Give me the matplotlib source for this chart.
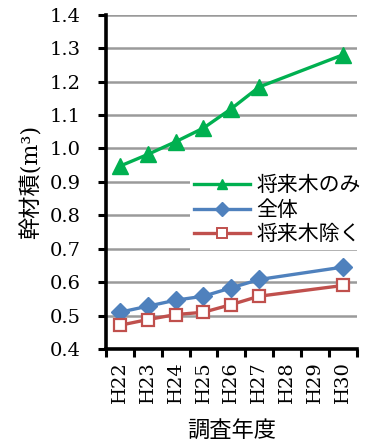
import matplotlib.pyplot as plt
from matplotlib.lines import Line2D

# 幹材積の推移 (H22〜H30)
years = ["H22", "H23", "H24", "H25", "H26", "H27", "H28", "H29", "H30"]
survey_idx = [0, 1, 2, 3, 4, 5, 8]

future_only = [0.947, 0.982, 1.020, 1.061, 1.119, 1.184, 1.280]
whole = [0.510, 0.528, 0.546, 0.558, 0.583, 0.608, 0.645]
excl_future = [0.471, 0.488, 0.503, 0.510, 0.533, 0.558, 0.590]

serif_jp = ["DejaVu Serif", "Noto Sans CJK JP"]

fig = plt.figure(figsize=(3.69, 4.41), dpi=100)
ax = fig.add_axes([0.287, 0.2086, 0.68, 0.758])

ax.plot(survey_idx, future_only, color="#00B050", lw=2.4, marker="^", ms=11,
        label="将来木のみ", zorder=3)
ax.plot(survey_idx, whole, color="#4F81BD", lw=2.4, marker="D", ms=9,
        label="全体", zorder=3)
ax.plot(survey_idx, excl_future, color="#C0504D", lw=2.4, marker="s", ms=9,
        mfc="white", mec="#C0504D", mew=1.6, label="将来木除く", zorder=3)

ax.set_ylim(0.4, 1.4)
ax.set_yticks([0.4 + 0.1 * i for i in range(11)])
ax.set_yticklabels([f"{0.4 + 0.1 * i:.1f}" for i in range(11)],
                   family="DejaVu Serif", fontsize=14)
ax.set_xlim(-0.5, len(years) - 0.5)
ax.set_xticks(range(len(years)))
ax.set_xticklabels(years, rotation=90, family="DejaVu Serif", fontsize=14)
ax.set_xticks([i - 0.5 for i in range(len(years) + 1)], minor=True)
ax.tick_params(axis="x", which="major", length=0, pad=9)
ax.tick_params(axis="x", which="minor", length=6, width=2.2, direction="out")
ax.tick_params(axis="y", length=6, width=2.2, direction="out", pad=12)

ax.yaxis.grid(True, color="#9A9A9A", lw=1.8)
ax.set_axisbelow(True)
for side in ("top", "right"):
    ax.spines[side].set_visible(False)
for side in ("left", "bottom"):
    ax.spines[side].set_linewidth(2.6)

ax.set_ylabel("幹材積(m³)", family=serif_jp, fontsize=16, labelpad=5)
ax.set_xlabel("調査年度", family="Noto Sans CJK JP", fontsize=16, labelpad=11)

handles = [
    Line2D([], [], color="#00B050", lw=2.4, marker="^", ms=7),
    Line2D([], [], color="#4F81BD", lw=2.4, marker="D", ms=7),
    Line2D([], [], color="#C0504D", lw=2.4, marker="s", ms=7,
           mfc="white", mec="#C0504D", mew=1.4),
]
leg = ax.legend(handles, ["将来木のみ", "全体", "将来木除く"],
                loc="upper left", bbox_to_anchor=(0.335, 0.535),
                prop={"family": "Noto Sans CJK JP", "size": 15},
                frameon=True, fancybox=False, framealpha=1, edgecolor="none",
                handlelength=2.7, handletextpad=0.3, labelspacing=0.12,
                borderpad=0.2, borderaxespad=0)

fig.savefig("out.png", dpi=100)
